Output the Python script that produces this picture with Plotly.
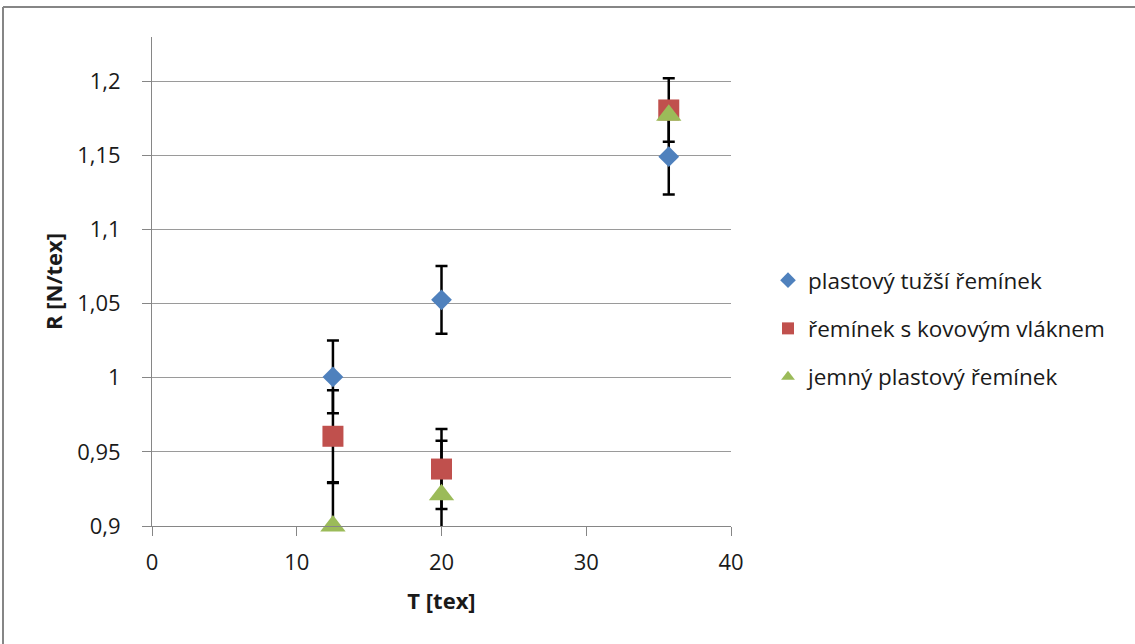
import plotly.graph_objects as go

series_names = ["plastový tužší řemínek", "řemínek s kovovým vláknem", "jemný plastový řemínek"]
T_values = [12.5, 20, 35.7]
R_plast_tuzsi = [1.0005, 1.0525, 1.149]
err_plast_tuzsi = [0.0245, 0.0228, 0.0255]
R_kovove = [0.9605, 0.9384, 1.1805]
err_kovove = [0.031, 0.027, 0.0214]
R_jemny = [0.9, 0.921, 1.177]
err_jemny = [0.029, 0.0365, 0.0]

colors = ["#4f81bd", "#c0504d", "#9bbb59"]
symbols = ["diamond", "square", "triangle-up"]
sizes = [16, 21, 22]
ys = [R_plast_tuzsi, R_kovove, R_jemny]
errs = [err_plast_tuzsi, err_kovove, err_jemny]

FONT = "Open Sans"
TXT = "#1a1a1a"
fig = go.Figure()

# error bars first (drawn under all markers, clipped to the plot area)
for name, y, e in zip(series_names, ys, errs):
    fig.add_trace(go.Scatter(
        x=T_values, y=y, mode="markers", showlegend=False, hoverinfo="skip",
        marker=dict(size=1, color="rgba(0,0,0,0)"),
        error_y=dict(type="data", array=e, visible=True, color="black",
                     thickness=2.5, width=6),
        cliponaxis=True,
    ))

for i, (name, y) in enumerate(zip(series_names, ys)):
    fig.add_trace(go.Scatter(
        x=T_values, y=y, mode="markers", name=name, legendgroup=name,
        marker=dict(symbol=symbols[i], size=sizes[i], color=colors[i],
                    line=dict(width=0)),
        cliponaxis=False,
    ))

L, R, T, B = 152, 404, 37, 118
W, H = 1135, 644
pw, ph = W - L - R, H - T - B

def px(xp):
    return (xp - L) / pw

def py(yp):
    return (H - B - yp) / ph

fig.update_layout(
    width=W, height=H,
    margin=dict(l=L, r=R, t=T, b=B, pad=0),
    paper_bgcolor="white", plot_bgcolor="white",
    separators=", ",
    font=dict(family=FONT, size=22, color=TXT),
    showlegend=True,
    legend=dict(x=px(768), y=py(259), xanchor="left", yanchor="top",
                font=dict(family=FONT, size=22.5, color=TXT),
                tracegroupgap=16, itemsizing="constant",
                bgcolor="rgba(0,0,0,0)"),
    xaxis=dict(range=[0, 40], dtick=10, showgrid=False, zeroline=False,
               showline=True, linecolor="#868686", linewidth=1,
               ticks="outside", ticklen=9, tickcolor="#868686",
               ticklabelstandoff=8,
               tickfont=dict(family=FONT, size=22, color=TXT),
               title=dict(text="<b>T [tex]</b>", font=dict(family=FONT, size=22, color=TXT),
                          standoff=18)),
    yaxis=dict(range=[0.9, 1.2297], tick0=0.9, dtick=0.05, showgrid=True,
               gridcolor="#9a9a9a", gridwidth=1, zeroline=False,
               showline=True, linecolor="#868686", linewidth=1,
               ticks="outside", ticklen=9, tickcolor="#868686",
               ticklabelstandoff=17,
               tickfont=dict(family=FONT, size=22, color=TXT),
               title=dict(text="<b>R [N/tex]</b>", font=dict(family=FONT, size=22, color=TXT),
                          standoff=8)),
)

# outer chart-area border (top and left edges visible in the picture)
fig.add_shape(type="line", xref="paper", yref="paper",
              x0=px(3), x1=px(W + 10), y0=py(7), y1=py(7),
              line=dict(color="#868686", width=2))
fig.add_shape(type="line", xref="paper", yref="paper",
              x0=px(3), x1=px(3), y0=py(7), y1=py(H + 10),
              line=dict(color="#868686", width=2))

fig.write_html("out.html")
